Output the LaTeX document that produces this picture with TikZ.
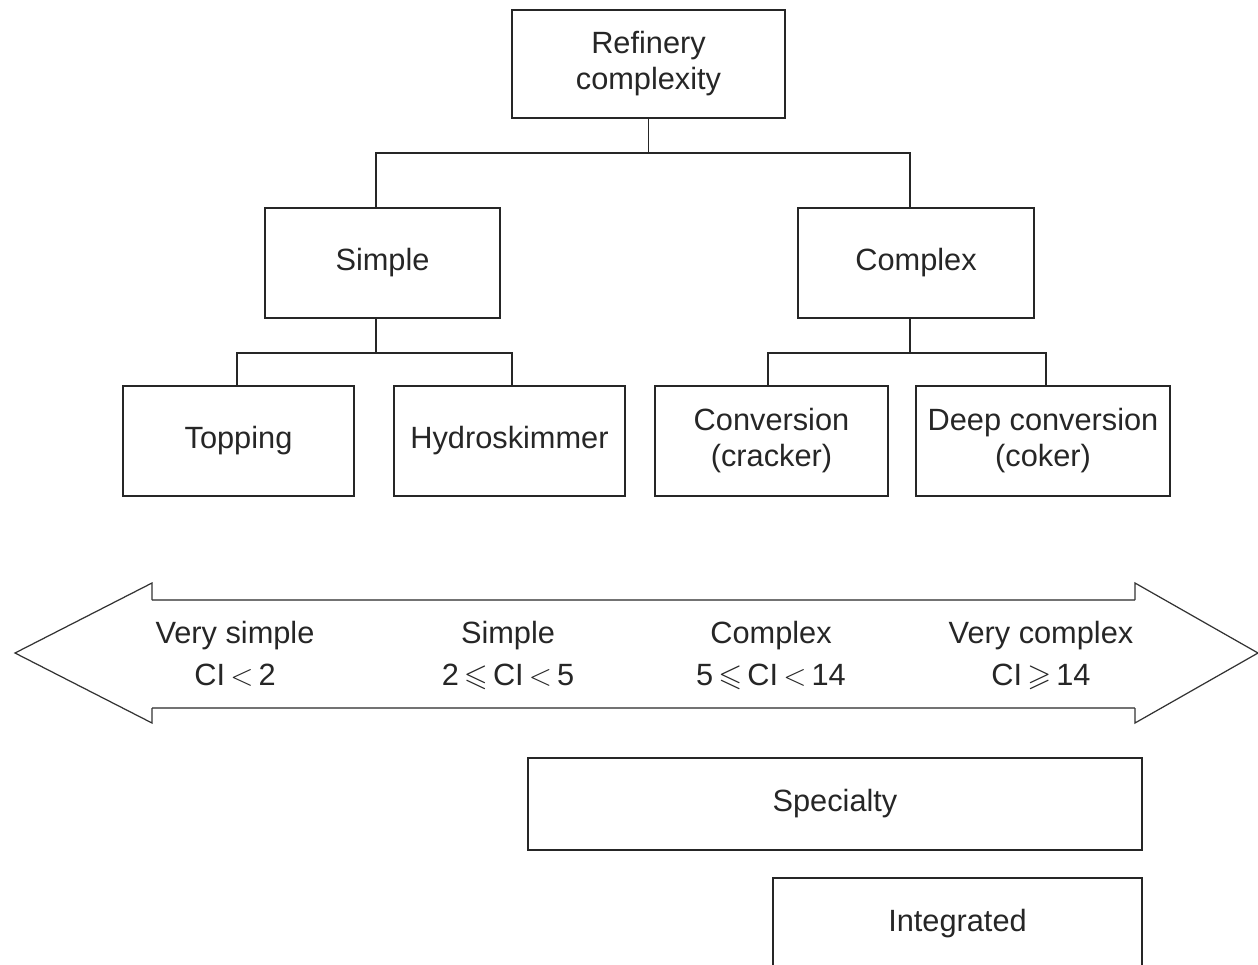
\documentclass[tikz,border=0pt]{standalone}
\usepackage{amssymb}
\usepackage{fontspec}
\setmainfont{Liberation Sans}
\usetikzlibrary{positioning}

\begin{document}
\begin{tikzpicture}[x=0.02cm,y=-0.02cm]
    \tikzstyle{every node}=[font=\fontsize{17.5}{20.5}\selectfont, text=black!85]
    \tikzstyle{block}=[draw=black!85, line width=0.9pt, inner sep=0pt, align=center]
    \tikzstyle{link}=[draw=black!85, line width=0.9pt]
    \tikzstyle{scale label}=[align=center, anchor=north, inner sep=0pt, font=\fontsize{17.5}{24}\selectfont]
    \clip (0,0) rectangle (1258,964);
    \useasboundingbox (0,0) rectangle (1258,964);

    % tree of refinery types
    \node[block, minimum width=5.46cm, minimum height=2.16cm] (R) at (648.5, 64) {Refinery\\complexity};
    \node[block, minimum width=4.7cm, minimum height=2.2cm] (S) at (382.5, 263) {Simple};
    \node[block, minimum width=4.72cm, minimum height=2.2cm] (C) at (916, 263) {Complex};
    \node[block, minimum width=4.62cm, minimum height=2.2cm] (T) at (238.5, 441) {Topping};
    \node[block, minimum width=4.62cm, minimum height=2.2cm] (H) at (509.5, 441) {Hydroskimmer};
    \node[block, minimum width=4.66cm, minimum height=2.2cm] (CV) at (771.5, 441) {Conversion\\(cracker)};
    \node[block, minimum width=5.08cm, minimum height=2.2cm] (DC) at (1043, 441) {Deep conversion\\(coker)};

    \coordinate (b1L) at (376, 153);
    \coordinate (b1R) at (910, 153);
    \coordinate (b2L) at (237, 353);
    \coordinate (b2R) at (512, 353);
    \coordinate (b3L) at (768, 353);
    \coordinate (b3R) at (1046, 353);
    \path[link] (R.south) -- (R.south |- b1L);
    \path[link] (b1L |- S.north) -- (b1L) -- (b1R) -- (b1R |- C.north);
    \path[link] (b1L |- S.south) -- (b1L |- b2L);
    \path[link] (b2L |- T.north) -- (b2L) -- (b2R) -- (b2R |- H.north);
    \path[link] (b1R |- C.south) -- (b1R |- b3L);
    \path[link] (b3L |- CV.north) -- (b3L) -- (b3R) -- (b3R |- DC.north);

    % complexity index scale
    \draw[black!55, line width=1.2pt] (152,600) -- (1135,600);
    \draw[black!55, line width=1.2pt] (152,708) -- (1135,708);
    \draw[black!80, line width=0.7pt] (152,600) -- (152,583) -- (15,653) -- (152,723) -- (152,708);
    \draw[black!80, line width=0.7pt] (1135,600) -- (1135,583) -- (1258,653) -- (1135,723) -- (1135,708);
    \node[scale label] (VS) at (235, 621) {Very simple\\CI\,$<$\,2};
    \node[scale label] (SI) at (508, 621) {Simple\\2\,$\leqslant$\,CI\,$<$\,5};
    \node[scale label] (CO) at (771, 621) {Complex\\5\,$\leqslant$\,CI\,$<$\,14};
    \node[scale label] (VC) at (1041, 621) {Very complex\\CI\,$\geqslant$\,14};

    % refinery configurations
    \node[block, minimum width=12.28cm, minimum height=1.84cm] (SP) at (835, 804) {Specialty};
    \node[block, minimum width=7.38cm, minimum height=1.84cm] (IN) at (957.5, 924) {Integrated};
\end{tikzpicture}
\end{document}
